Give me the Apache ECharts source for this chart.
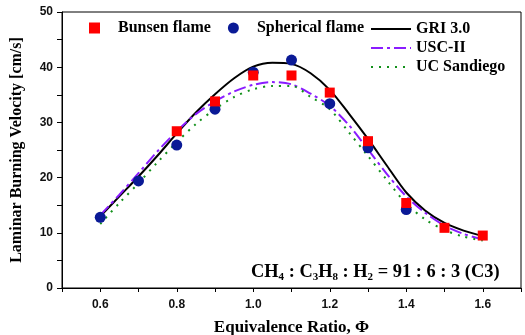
<!DOCTYPE html>
<html lang="en">
<head>
    <meta charset="UTF-8">
    <title>Laminar burning velocity</title>
    <script src="https://cdn.jsdelivr.net/npm/echarts@6/dist/echarts.min.js"></script>
    <style>
        html,
        body {
            margin: 0;
            height: 100%;
            background: #fff;
        }
        #main {
            width: 525px;
            height: 335px;
        }
    </style>
</head>
<body>
    <div id="main"></div>
    <script type="text/javascript">
        const chart = echarts.init(document.getElementById('main'));

        // measurements
        const phiBunsen = [0.8, 0.9, 1.0, 1.1, 1.2, 1.3, 1.4, 1.5, 1.6];
        const bunsen = [28.4, 33.8, 38.5, 38.5, 35.4, 26.6, 15.4, 10.9, 9.5];
        const phiSpherical = [0.6, 0.7, 0.8, 0.9, 1.0, 1.1, 1.2, 1.3, 1.4];
        const spherical = [12.8, 19.4, 25.9, 32.4, 39.1, 41.3, 33.4, 25.4, 14.2];

        // mechanisms
        const phiModel = [0.6, 0.65, 0.7, 0.75, 0.8, 0.85, 0.9, 0.95, 1.0, 1.05, 1.1,
            1.15, 1.2, 1.25, 1.3, 1.35, 1.4, 1.45, 1.5, 1.55, 1.6];
        const gri = [13.0, 16.6, 20.2, 24.0, 28.0, 31.8, 35.1, 38.0, 40.1, 40.8, 40.6,
            38.9, 35.9, 31.6, 27.0, 22.1, 17.3, 14.0, 11.8, 10.4, 9.4];
        const usc = [13.2, 16.9, 20.8, 24.8, 28.4, 31.5, 33.8, 35.6, 36.8, 37.3, 36.9,
            35.2, 33.0, 29.5, 25.1, 20.6, 16.6, 13.6, 11.3, 9.8, 8.8];
        const ucsd = [11.6, 15.4, 19.0, 22.8, 26.4, 29.7, 32.4, 34.6, 36.0, 36.6, 36.6,
            34.6, 32.4, 28.2, 23.9, 19.5, 15.3, 12.4, 10.5, 9.3, 8.6];

        const xTicks = ['0.6', '0.8', '1.0', '1.2', '1.4', '1.6'];
        const yTicks = ['0', '10', '20', '30', '40', '50'];

        const zip = (xs, ys) => xs.map((x, i) => [x, ys[i]]);
        const serif = 'Liberation Serif';
        const sans = 'Liberation Sans';

        const lineSeries = (name, ys, color, type) => ({
            name: name,
            type: 'line',
            data: zip(phiModel, ys),
            smooth: 0.3,
            symbol: 'none',
            z: 2,
            lineStyle: { color: color, width: 2, type: type },
            itemStyle: { color: color }
        });

        const legendText = {
            fontFamily: serif, fontWeight: 'bold', fontSize: 16, color: '#000'
        };

        chart.setOption({
            animation: false,
            grid: {
                left: 62, right: 4, top: 12, bottom: 47,
                outerBoundsMode: 'none',
                show: true, borderColor: '#000', borderWidth: 1
            },
            legend: [{
                data: ['Bunsen flame', 'Spherical flame'],
                left: 84, top: 15,
                itemWidth: 11, itemHeight: 11, itemGap: 17,
                textStyle: Object.assign({ padding: [0, 0, 0, 13] }, legendText)
            }, {
                data: ['GRI 3.0', 'USC-II', 'UC Sandiego'],
                orient: 'vertical',
                left: 365, top: 16,
                itemWidth: 40, itemHeight: 12, itemGap: 3,
                itemStyle: { opacity: 0 },
                textStyle: Object.assign({ lineHeight: 14.5 }, legendText)
            }],
            xAxis: {
                type: 'value',
                min: 0.5, max: 1.7, interval: 0.1,
                name: 'Equivalence Ratio, \u03a6',
                nameLocation: 'middle', nameGap: 31,
                nameTextStyle: { fontFamily: serif, fontWeight: 'bold', fontSize: 17, color: '#000' },
                axisLine: { lineStyle: { color: '#000', width: 1 } },
                axisTick: { length: 4, lineStyle: { color: '#000' } },
                splitLine: { show: false },
                axisLabel: {
                    fontFamily: sans, fontWeight: 'bold', fontSize: 12, color: '#111', margin: 11,
                    formatter: v => {
                        const s = v.toFixed(1);
                        return xTicks.includes(s) ? s : '';
                    }
                }
            },
            yAxis: {
                type: 'value',
                min: 0, max: 50, interval: 5,
                name: 'Laminar Burning Velocity [cm/s]',
                nameLocation: 'middle', nameGap: 37,
                nameTextStyle: { fontFamily: serif, fontWeight: 'bold', fontSize: 16, color: '#000' },
                axisLine: { show: true, lineStyle: { color: '#000', width: 1 } },
                axisTick: { show: true, length: 5, lineStyle: { color: '#000' } },
                splitLine: { show: false },
                axisLabel: {
                    fontFamily: sans, fontWeight: 'bold', fontSize: 12, color: '#111', margin: 9,
                    formatter: v => {
                        const s = String(Math.round(v));
                        return yTicks.includes(s) ? s : '';
                    }
                }
            },
            graphic: [{
                type: 'text',
                left: 251, top: 263,
                style: {
                    text: '{b|CH}{s|4}{b| : C}{s|3}{b|H}{s|8}{b| : H}{s|2}{b| = 91 : 6 : 3 (C3)}',
                    rich: {
                        b: { fontFamily: serif, fontWeight: 'bold', fontSize: 18.4, lineHeight: 22, fill: '#000', verticalAlign: 'middle' },
                        s: { fontFamily: serif, fontWeight: 'bold', fontSize: 11, lineHeight: 12, fill: '#000', verticalAlign: 'bottom' }
                    }
                }
            }],
            series: [
                lineSeries('GRI 3.0', gri, '#000000', 'solid'),
                lineSeries('USC-II', usc, '#8a1cff', [12, 4, 3, 4]),
                lineSeries('UC Sandiego', ucsd, '#12901a', [2, 6]),
                {
                    name: 'Bunsen flame',
                    type: 'scatter',
                    data: zip(phiBunsen, bunsen),
                    symbol: 'rect',
                    symbolSize: 10,
                    z: 4,
                    itemStyle: { color: '#ff0000', opacity: 1 }
                },
                {
                    name: 'Spherical flame',
                    type: 'scatter',
                    data: zip(phiSpherical, spherical),
                    symbol: 'circle',
                    symbolSize: 11,
                    z: 3,
                    itemStyle: { color: '#0a1a96', opacity: 1 }
                }
            ]
        });
    </script>
</body>
</html>
